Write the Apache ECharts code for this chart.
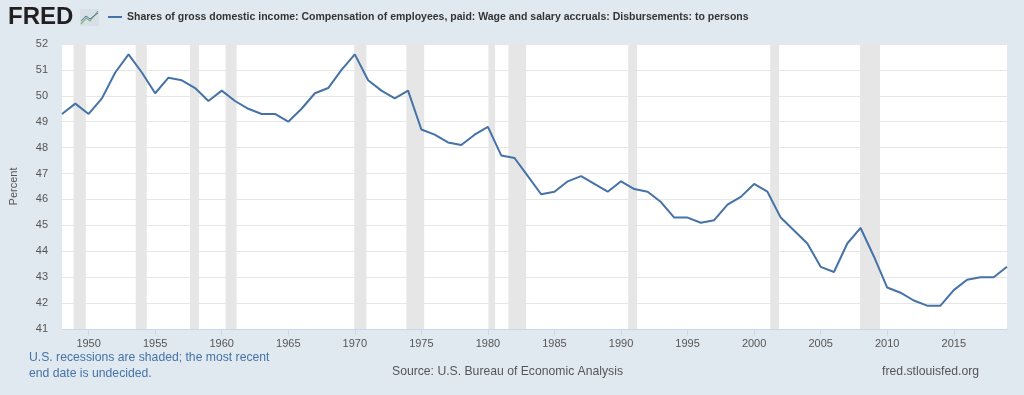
<!DOCTYPE html>
<html><head><meta charset="utf-8">
<script src="https://cdn.jsdelivr.net/npm/echarts@6/dist/echarts.min.js"></script>
<style>html,body{margin:0;padding:0;background:#e1e9f0;}#c{width:1024px;height:395px;}</style>
</head><body><div id="c"></div>
<script>
const years = [1948,1949,1950,1951,1952,1953,1954,1955,1956,1957,1958,1959,1960,1961,1962,1963,1964,1965,1966,1967,1968,1969,1970,1971,1972,1973,1974,1975,1976,1977,1978,1979,1980,1981,1982,1983,1984,1985,1986,1987,1988,1989,1990,1991,1992,1993,1994,1995,1996,1997,1998,1999,2000,2001,2002,2003,2004,2005,2006,2007,2008,2009,2010,2011,2012,2013,2014,2015,2016,2017,2018,2019];
const values = [49.3,49.7,49.3,49.9,50.9,51.6,50.9,50.1,50.7,50.6,50.3,49.8,50.2,49.8,49.5,49.3,49.3,49.0,49.5,50.1,50.3,51.0,51.6,50.6,50.2,49.9,50.2,48.7,48.5,48.2,48.1,48.5,48.8,47.7,47.6,46.9,46.2,46.3,46.7,46.9,46.6,46.3,46.7,46.4,46.3,45.9,45.3,45.3,45.1,45.2,45.8,46.1,46.6,46.3,45.3,44.8,44.3,43.4,43.2,44.3,44.9,43.8,42.6,42.4,42.1,41.9,41.9,42.5,42.9,43.0,43.0,43.4];
const recessions = [[1948.87,1949.79],[1953.54,1954.37],[1957.62,1958.29],[1960.29,1961.12],[1969.96,1970.87],[1973.87,1975.21],[1980.04,1980.54],[1981.54,1982.87],[1990.54,1991.21],[2001.21,2001.87],[2007.96,2009.46]];
const xTicks = [1950,1955,1960,1965,1970,1975,1980,1985,1990,1995,2000,2005,2010,2015];
const title = 'Shares of gross domestic income: Compensation of employees, paid: Wage and salary accruals: Disbursements: to persons';

const chart = echarts.init(document.getElementById('c'), null, {renderer:'canvas'});
const font = '"Liberation Sans", Arial, sans-serif';
chart.setOption({
  backgroundColor: '#e1e9f0',
  animation: false,
  textStyle: {fontFamily: font},
  grid: {left: 62, right: 17, top: 44, bottom: 66, show: true, backgroundColor: '#ffffff', borderWidth: 0},
  xAxis: {
    type: 'value', min: 1948, max: 2019,
    axisLine: {show: true, lineStyle: {color: '#ccd6eb', width: 1}},
    axisTick: {show: true, customValues: xTicks, length: 6, lineStyle: {color: '#ccd6eb'}},
    axisLabel: {customValues: xTicks, color: '#555', fontSize: 11, fontFamily: font, margin: 9, formatter: v => String(v)},
    splitLine: {show: false}
  },
  yAxis: {
    type: 'value', min: 41, max: 52, interval: 1,
    name: 'Percent', nameLocation: 'middle', nameRotate: 90, nameGap: 43,
    nameTextStyle: {color: '#555', fontSize: 11, fontFamily: font},
    axisLine: {show: false}, axisTick: {show: false},
    axisLabel: {color: '#555', fontSize: 11, fontFamily: font, margin: 14},
    splitLine: {show: true, lineStyle: {color: '#e6e6e6', width: 1}}
  },
  series: [{
    type: 'line',
    data: years.map((y, i) => [y, values[i]]),
    showSymbol: false,
    lineStyle: {color: '#4572a7', width: 2},
    itemStyle: {color: '#4572a7'},
    z: 3,
    markArea: {
      silent: true,
      itemStyle: {color: '#e6e6e6', opacity: 1},
      data: recessions.map(r => [{xAxis: r[0]}, {xAxis: r[1]}])
    }
  }],
  graphic: [
    {type: 'text', left: 8, top: 5, style: {text: 'FRED', fontSize: 24, fontWeight: 'bold', fill: '#231f20', fontFamily: font}},
    {type: 'rect', shape: {x: 80, y: 9, width: 19, height: 17}, style: {fill: '#d9dfe6'}},
    {type: 'polyline', shape: {points: [[81,24],[86,18],[90,21],[98,11]]}, style: {stroke: '#7fb069', lineWidth: 1.2, fill: null}},
    {type: 'polyline', shape: {points: [[81,21],[86,16],[90,19],[98,13]]}, style: {stroke: '#4572a7', lineWidth: 1, fill: null}},
    {type: 'line', shape: {x1: 108, y1: 17, x2: 122, y2: 17}, style: {stroke: '#4572a7', lineWidth: 2}},
    {type: 'text', left: 127, top: 12, style: {text: title, fontSize: 10.5, fontWeight: 'bold', fill: '#333', fontFamily: font}},
    {type: 'text', left: 29, top: 350, style: {text: 'U.S. recessions are shaded; the most recent\nend date is undecided.', fontSize: 12.2, lineHeight: 16, fill: '#4572a7', fontFamily: font}},
    {type: 'text', left: 392, top: 366, style: {text: 'Source: U.S. Bureau of Economic Analysis', fontSize: 12.2, fill: '#555', fontFamily: font}},
    {type: 'text', right: 45, top: 366, style: {text: 'fred.stlouisfed.org', fontSize: 12.2, fill: '#555', fontFamily: font}}
  ]
});
</script></body></html>
